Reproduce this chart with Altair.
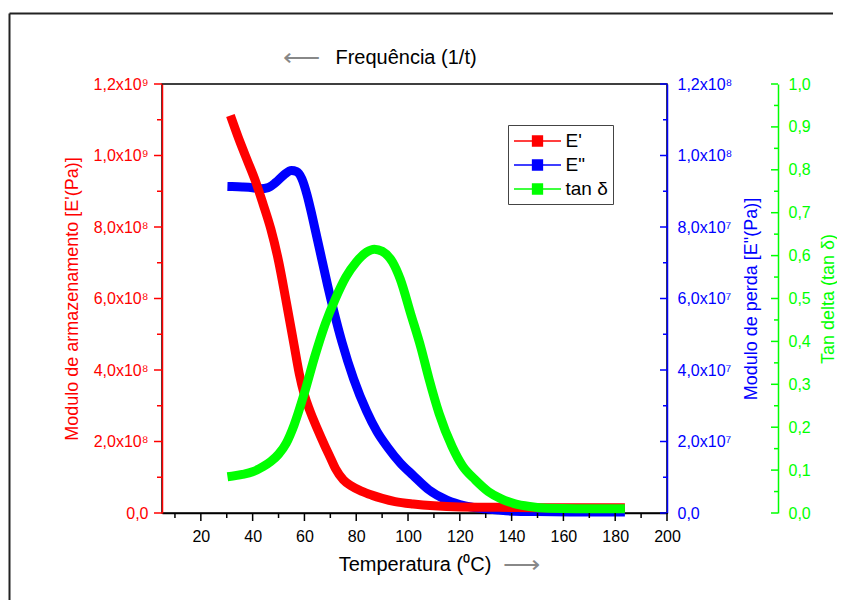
import json
import altair as alt
import pandas as pd

# ---------------- data ----------------
T_storage = [32, 35, 38, 41, 44, 47, 50, 53, 56, 58, 60, 62, 65, 68, 70, 72, 75, 78, 82, 86,
             90, 95, 102, 110, 120, 135, 150, 165, 182]
E_storage = [1.100e9, 1.040e9, 0.985e9, 0.930e9, 0.865e9, 0.795e9, 0.705e9, 0.590e9, 0.470e9,
             0.390e9, 0.330e9, 0.288e9, 0.235e9, 0.186e9, 0.155e9, 0.124e9, 0.093e9, 0.076e9,
             0.061e9, 0.050e9, 0.041e9, 0.032e9, 0.025e9, 0.020e9, 0.017e9, 0.016e9, 0.015e9,
             0.015e9, 0.015e9]

T_loss = [32, 36, 40, 43, 46, 49, 52, 55, 57, 59, 61, 63, 65, 67, 69, 71.5, 74.5, 79, 84, 88,
          92, 97, 102, 108, 115, 122, 128, 135, 141, 150, 165, 182]
E_loss = [0.913e8, 0.912e8, 0.910e8, 0.907e8, 0.910e8, 0.925e8, 0.945e8, 0.958e8, 0.955e8,
          0.935e8, 0.890e8, 0.830e8, 0.765e8, 0.700e8, 0.635e8, 0.560e8, 0.478e8, 0.375e8,
          0.285e8, 0.228e8, 0.185e8, 0.140e8, 0.105e8, 0.065e8, 0.036e8, 0.020e8, 0.013e8,
          0.008e8, 0.005e8, 0.004e8, 0.003e8, 0.003e8]

T_tan = [32, 36, 40, 44, 47, 50, 53, 56, 60, 64, 68, 72, 76, 80, 84, 87, 90, 94, 97, 101, 105,
         108, 112, 117, 121, 126, 131, 136, 141, 147, 154, 165, 182]
tan_delta = [0.086, 0.090, 0.096, 0.108, 0.120, 0.137, 0.163, 0.205, 0.280, 0.365, 0.440,
             0.500, 0.550, 0.585, 0.608, 0.615, 0.610, 0.585, 0.545, 0.465, 0.385, 0.315,
             0.232, 0.155, 0.110, 0.077, 0.050, 0.033, 0.022, 0.015, 0.011, 0.010, 0.010]

series_names = ["E'", 'E"', "tan δ"]

x_major = [20, 40, 60, 80, 100, 120, 140, 160, 180, 200]
x_minor = [10, 30, 50, 70, 90, 110, 130, 150, 170, 190]
storage_major = [0, 2e8, 4e8, 6e8, 8e8, 1.0e9, 1.2e9]
storage_minor = [1e8, 3e8, 5e8, 7e8, 9e8, 1.1e9]
storage_labels = ["0,0", "2,0x10⁸", "4,0x10⁸", "6,0x10⁸", "8,0x10⁸", "1,0x10⁹", "1,2x10⁹"]
loss_major = [0, 2e7, 4e7, 6e7, 8e7, 1.0e8, 1.2e8]
loss_minor = [1e7, 3e7, 5e7, 7e7, 9e7, 1.1e8]
loss_labels = ["0,0", "2,0x10⁷", "4,0x10⁷", "6,0x10⁷", "8,0x10⁷", "1,0x10⁸", "1,2x10⁸"]
tan_major = [0.0, 0.1, 0.2, 0.3, 0.4, 0.5, 0.6, 0.7, 0.8, 0.9, 1.0]
tan_minor = [0.05, 0.15, 0.25, 0.35, 0.45, 0.55, 0.65, 0.75, 0.85, 0.95]
tan_labels = ["0,0", "0,1", "0,2", "0,3", "0,4", "0,5", "0,6", "0,7", "0,8", "0,9", "1,0"]

# ---------------- styling ----------------
W, H = 505, 429
PAD_L, PAD_T, PAD_R, PAD_B = 154, 76, 170, 87
GREEN_OFFSET = 111
FONT = "Liberation Sans"
RED, BLUE, GREEN = "#ff0000", "#0000ff", "#00ff00"

xscale = alt.Scale(domain=[5, 200], nice=False, zero=False)
color_scale = alt.Scale(domain=series_names, range=[RED, BLUE, GREEN])

legend = alt.Legend(
    title=None, orient="none", legendX=346, legendY=41, direction="vertical",
    symbolType="M-2.35,0H-0.5M0.5,0H2.35M-0.5,-0.5H0.5V0.5H-0.5Z",
    symbolSize=400, symbolStrokeWidth=1.3, symbolOffset=13.5, labelOffset=17,
    labelFontSize=19, labelFont=FONT, labelColor="black",
    strokeColor="#444", fillColor="white", padding=5, rowPadding=3,
    symbolFillColor={"expr": "scale('color', datum.value)"},
)

x_axis = alt.Axis(values=x_major, ticks=False, labelPadding=15, labelFontSize=16,
                  labelColor="black", domainColor="black", domainWidth=1.5, format="d",
                  labelFlush=False, labelOverlap=False,
                  title="Temperatura (⁰C)", titleFontSize=20, titleFontWeight="normal",
                  titleColor="black", titlePadding=10)


def y_axis(labels, major, step, color, title, title_x, orient, offset=0, pad=10):
    expr = json.dumps(labels, ensure_ascii=False) + f"[round(datum.value/{step})]"
    return alt.Axis(values=major, orient=orient, offset=offset, ticks=False,
                    labelExpr=expr, labelColor=color, labelFontSize=16,
                    labelPadding=pad, labelFlush=False, labelOverlap=False,
                    domainColor=color, domainWidth=1.5,
                    title=title, titleColor=color, titleFontSize=18,
                    titleFontWeight="normal", titleAngle=270, titleX=title_x,
                    titleY=H / 2, titleAlign="center", titleBaseline="middle")


def series_chart(T, vals, name, dom, axis):
    df = pd.DataFrame({"T": T, "v": vals, "s": name})
    return alt.Chart(df).mark_line(strokeWidth=9, strokeCap="square",
                                   interpolate="monotone").encode(
        x=alt.X("T:Q", scale=xscale, axis=x_axis),
        y=alt.Y("v:Q", scale=alt.Scale(domain=dom, nice=False, zero=False), axis=axis),
        color=alt.Color("s:N", scale=color_scale, legend=legend),
    )


ax_storage = y_axis(storage_labels, storage_major, 2e8, RED,
                    "Modulo de armazenamento [E'(Pa)]", -90, "left", pad=14)
ax_loss = y_axis(loss_labels, loss_major, 2e7, BLUE, 'Modulo de perda [E"(Pa)]', 84, "right")
ax_tan = y_axis(tan_labels, tan_major, 0.1, GREEN, "Tan delta (tan δ)", 50, "right",
                offset=GREEN_OFFSET)

red = series_chart(T_storage, E_storage, series_names[0], [0, 1.2e9], ax_storage)
blue = series_chart(T_loss, E_loss, series_names[1], [0, 1.2e8], ax_loss)
green = series_chart(T_tan, tan_delta, series_names[2], [0, 1.0], ax_tan)


def yticks(vals, dom, x0, x1, color):
    return alt.Chart(pd.DataFrame({"v": vals})).mark_rule(color=color, strokeWidth=1.5).encode(
        y=alt.Y("v:Q", scale=alt.Scale(domain=dom, nice=False, zero=False), axis=None),
        x=alt.value(x0), x2=alt.value(x1))


def xticks(vals, length):
    return alt.Chart(pd.DataFrame({"T": vals})).mark_rule(color="black", strokeWidth=1.5).encode(
        x=alt.X("T:Q", scale=xscale), y=alt.value(H), y2=alt.value(H + length))


GX = W + GREEN_OFFSET
tick_layers = [
    yticks(storage_major, [0, 1.2e9], -8, 0, RED),
    yticks(storage_minor, [0, 1.2e9], -5, 0, RED),
    yticks(loss_major, [0, 1.2e8], W - 7, W, BLUE),
    yticks(loss_minor, [0, 1.2e8], W - 4, W, BLUE),
    yticks(tan_major, [0, 1.0], GX - 7, GX, GREEN),
    yticks(tan_minor, [0, 1.0], GX - 4, GX, GREEN),
    xticks(x_major, 8),
    xticks(x_minor, 5),
]

# outer frame: top and left edges (top stops just short of the drawing's right edge)
one = pd.DataFrame({"a": [0]})
frame_top = alt.Chart(one).mark_rule(color="#222", strokeWidth=2, strokeCap="butt").encode(
    x=alt.value(-152.5), x2=alt.value(W + PAD_R - 4), y=alt.value(-70.5))
frame_left = alt.Chart(one).mark_rule(color="#222", strokeWidth=2, strokeCap="butt").encode(
    x=alt.value(-152.5), y=alt.value(-70.5), y2=alt.value(H + PAD_B))


def label(text, x, y, size, color="black"):
    return alt.Chart(one).mark_text(font=FONT, fontSize=size, color=color, align="center",
                                    baseline="middle").encode(
        x=alt.value(x), y=alt.value(y), text=alt.value(text))


texts = [
    label("Frequência (1/t)", 244, -26, 20),
    label("⟵", 139, -26, 26, "#888888"),
    label("⟶", 359, 481, 26, "#888888"),
]

chart = alt.layer(frame_top, frame_left, blue, red, green, *tick_layers, *texts).resolve_scale(
    y="independent"
).properties(
    width=W, height=H,
    autosize=alt.AutoSizeParams(type="none"),
    padding={"left": PAD_L, "top": PAD_T, "right": PAD_R, "bottom": PAD_B},
).configure(font=FONT).configure_view(stroke="black", strokeWidth=1.5).configure_axis(grid=False)

chart.save("out.html", embed_options={"renderer": "svg", "actions": False})
